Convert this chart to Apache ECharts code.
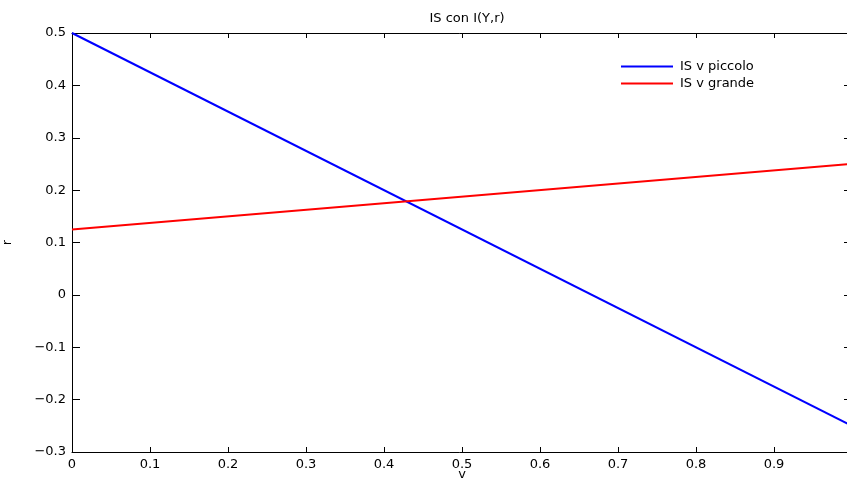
<!DOCTYPE html>
<html>
<head>
<meta charset="utf-8">
<style>
  html, body { margin: 0; padding: 0; background: #fff; }
  #chart { width: 847px; height: 478px; }
</style>
<script src="https://cdn.jsdelivr.net/npm/echarts@6/dist/echarts.min.js"></script>
</head>
<body>
<div id="chart"></div>
<script>
// end points of the two IS lines
const xValues = [0, 1];
const isSmall = [0.5, -0.25];
const isLarge = [0.125, 0.25];
const seriesNames = ['IS v piccolo', 'IS v grande'];

const chart = echarts.init(document.getElementById('chart'));

const font = 'DejaVu Sans, Liberation Sans, Arial, sans-serif';
const minus = v => String(v).replace('-', '\u2212');

const axisShared = {
  type: 'value',
  axisLine: { show: true, onZero: false, lineStyle: { color: '#000', width: 1 } },
  splitLine: { show: false },
};
const xTick = { show: true, inside: true, length: 5, lineStyle: { color: '#000' } };
const yTick = { show: true, inside: true, length: 8, lineStyle: { color: '#000' } };

const option = {
  animation: false,
  textStyle: { fontFamily: font },
  title: {
    text: 'IS con I(Y,r)',
    left: 462, top: 7, textAlign: 'center',
    textStyle: { fontSize: 13, fontWeight: 'normal', color: '#000', fontFamily: font }
  },
  grid: { left: 72, top: 33, bottom: 26, right: -5, containLabel: false, outerBoundsMode: 'none' },
  legend: {
    left: 616, top: 55, orient: 'vertical',
    itemWidth: 52, itemHeight: 2, itemGap: 4,
    icon: 'rect',
    textStyle: { fontSize: 13, color: '#000', fontFamily: font, padding: [0, 0, 0, 2] }
  },
  xAxis: [
    {
      ...axisShared, axisTick: xTick,
      min: 0, max: 1, interval: 0.1,
      name: 'v', nameLocation: 'middle', nameGap: 16, nameMoveOverlap: false,
      nameTextStyle: { fontSize: 13, color: '#000', verticalAlign: 'top' },
      axisLabel: { fontSize: 13, color: '#000', margin: 6,
        formatter: v => v >= 1 ? '' : minus(+v.toFixed(1)) }
    },
    {
      ...axisShared, axisTick: xTick, position: 'top',
      min: 0, max: 1, interval: 0.1,
      axisLabel: { show: false }
    }
  ],
  yAxis: [
    {
      ...axisShared, axisTick: yTick,
      min: -0.3, max: 0.5, interval: 0.1,
      name: 'r', nameLocation: 'middle', nameGap: 58, nameRotate: 90, nameMoveOverlap: false,
      nameTextStyle: { fontSize: 13, color: '#000' },
      axisLabel: { fontSize: 13, color: '#000', margin: 6,
        formatter: v => minus(+v.toFixed(1)) }
    },
    {
      ...axisShared, axisTick: yTick, position: 'right',
      min: -0.3, max: 0.5, interval: 0.1,
      axisLabel: { show: false }
    }
  ],
  series: [
    {
      name: seriesNames[0], type: 'line', symbol: 'none',
      data: xValues.map((x, i) => [x, isSmall[i]]),
      lineStyle: { color: '#0000ff', width: 2 }, itemStyle: { color: '#0000ff' }
    },
    {
      name: seriesNames[1], type: 'line', symbol: 'none',
      data: xValues.map((x, i) => [x, isLarge[i]]),
      lineStyle: { color: '#ff0000', width: 2 }, itemStyle: { color: '#ff0000' }
    }
  ]
};

chart.setOption(option);
</script>
</body>
</html>
